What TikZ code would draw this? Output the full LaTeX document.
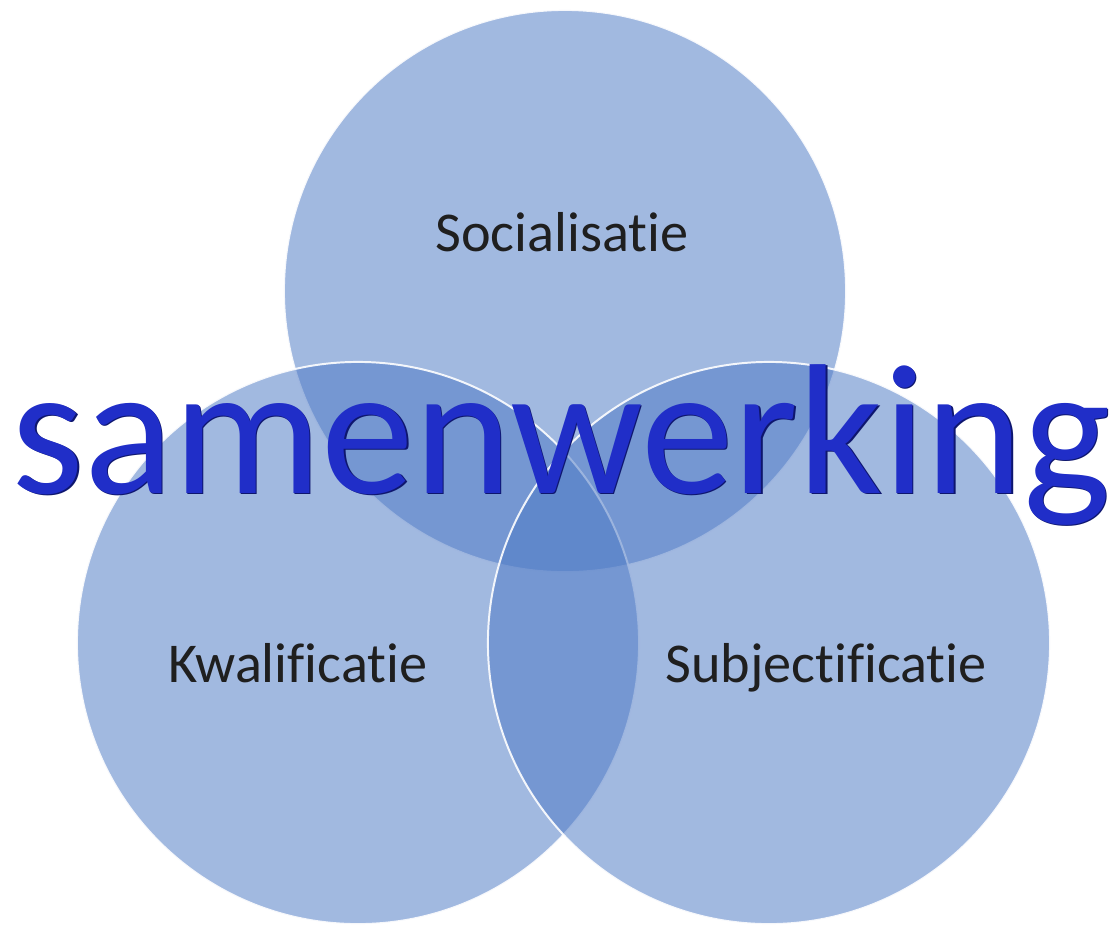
\documentclass[tikz,border=0pt]{standalone}
\usepackage{fontspec}
\setmainfont{Carlito}[Ligatures={NoCommon,NoDiscretionary}]
\usetikzlibrary{positioning}
\definecolor{ringblue}{RGB}{78,122,197}
\definecolor{wordblue}{RGB}{32,46,200}
\definecolor{wordshade}{RGB}{14,22,110}

\begin{document}
\begin{tikzpicture}[x=0.025cm,y=-0.025cm,
  ring/.style={circle,fill=ringblue,fill opacity=0.53,draw=white,draw opacity=0.9,
    line width=1.4pt,minimum size=14.05cm,inner sep=0pt},
  lbl/.style={anchor=base,font=\fontsize{40}{40}\selectfont,text=black!88},
  word/.style={anchor=base,inner sep=0pt,font=\fontsize{132}{132}\selectfont}]
\useasboundingbox (0,0) rectangle (1119,930);
% the three circles
\node[ring] (soc) at (565,291) {};
\node[ring] (kwa) at (358,643) {};
\node[ring] (sub) at (769,643) {};
% labels
\node[lbl] (soclbl) at (562,251) {Socialisatie};
\node[lbl] (kwalbl) at (298,682) {Kwalificatie};
\node[lbl] (sublbl) at (826,682) {Subjectificatie};
% title word
\node[word,text=wordshade] (wordshd) at (562.5,494.5) {samenwerking};
\node[word,text=wordblue] (samen) at (561,493) {samenwerking};
\end{tikzpicture}
\end{document}
